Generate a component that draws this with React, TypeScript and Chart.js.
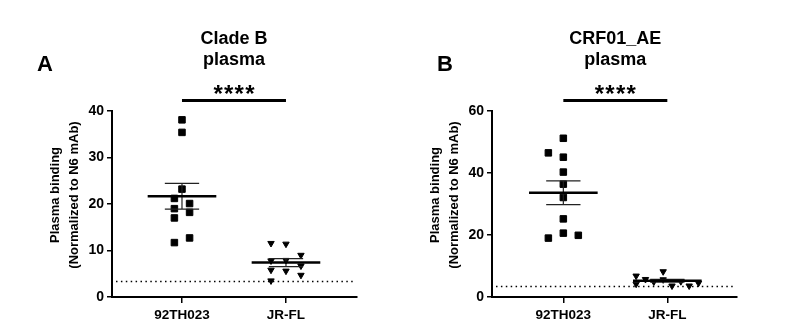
import React, { useEffect, useRef } from "react";
import { Chart, registerables } from "chart.js";

Chart.register(...registerables);

// ---------- data ----------
const categories = ["92TH023", "JR-FL"];

// Panel A: Clade B plasma
const cladeB_92TH023 = [38.1, 35.4, 23.2, 21.2, 20.1, 19.0, 18.2, 17.0, 12.7, 11.7];
const cladeB_92TH023_jitter = [0, 0, 0, -0.073, 0.073, -0.073, 0.073, -0.073, 0.073, -0.073];
const cladeB_JRFL = [11.55, 11.4, 9.0, 7.8, 7.9, 6.7, 5.8, 5.6, 4.7, 3.5];
const cladeB_JRFL_jitter = [-0.144, 0, 0.144, -0.144, 0, 0.144, -0.144, 0, 0.144, -0.144];
const cladeB_yTicks = [0, 10, 20, 30, 40];

// Panel B: CRF01_AE plasma
const crf01_92TH023 = [51.2, 46.5, 45.1, 40.3, 36.4, 32.1, 25.2, 20.6, 19.0, 19.9];
const crf01_92TH023_jitter = [0, -0.144, 0, 0, 0, 0, 0, 0, -0.144, 0.144];
const crf01_JRFL = [6.8, 8.2, 5.7, 4.2, 4.9, 5.6, 3.6, 5.0, 3.6, 4.5];
const crf01_JRFL_jitter = [-0.3, -0.04, -0.21, -0.3, -0.13, -0.04, 0.045, 0.13, 0.21, 0.3];
const crf01_yTicks = [0, 20, 40, 60];

const cutoff = 3.35;
const significance = "****";

const FONT = "'Liberation Sans', Arial, Helvetica, sans-serif";

type Panel = {
  letter: string;
  letterX: number;
  title: string[];
  groupA: number[];
  jitterA: number[];
  groupB: number[];
  jitterB: number[];
  yTicks: number[];
  xMin: number;
  xMax: number;
  padLeft: number;
  padRight: number;
  left: number;
};

const panels: Panel[] = [
  {
    letter: "A",
    letterX: 37,
    title: ["Clade B", "plasma"],
    groupA: cladeB_92TH023,
    jitterA: cladeB_92TH023_jitter,
    groupB: cladeB_JRFL,
    jitterB: cladeB_JRFL_jitter,
    yTicks: cladeB_yTicks,
    xMin: -0.673,
    xMax: 1.683,
    padLeft: 72,
    padRight: 40,
    left: 0,
  },
  {
    letter: "B",
    letterX: 40,
    title: ["CRF01_AE", "plasma"],
    groupA: crf01_92TH023,
    jitterA: crf01_92TH023_jitter,
    groupB: crf01_JRFL,
    jitterB: crf01_JRFL_jitter,
    yTicks: crf01_yTicks,
    xMin: -0.686,
    xMax: 1.67,
    padLeft: 55,
    padRight: 57,
    left: 397,
  },
];

function meanSem(v: number[]) {
  const n = v.length;
  const m = v.reduce((a, b) => a + b, 0) / n;
  const sd = Math.sqrt(v.reduce((a, b) => a + (b - m) * (b - m), 0) / (n - 1));
  return { m, sem: sd / Math.sqrt(n) };
}

function makeOverlay(p: Panel) {
  return {
    id: "overlay" + p.letter,
    beforeDatasetsDraw(chart: any) {
      const { ctx, chartArea, scales } = chart;
      const y = scales.y;
      ctx.save();
      ctx.strokeStyle = "#000";
      ctx.lineWidth = 1.5;
      ctx.setLineDash([1.5, 3.4]);
      const yy = y.getPixelForValue(cutoff);
      ctx.beginPath();
      ctx.moveTo(chartArea.left + 4, yy);
      ctx.lineTo(chartArea.right - 3, yy);
      ctx.stroke();
      ctx.restore();
    },
    afterDatasetsDraw(chart: any) {
      const { ctx, chartArea, scales } = chart;
      const x = scales.x;
      const y = scales.y;
      ctx.save();
      // mean +/- SEM
      [p.groupA, p.groupB].forEach((vals, i) => {
        const { m, sem } = meanSem(vals);
        const cx = x.getPixelForValue(i);
        const ym = y.getPixelForValue(m);
        const yt = y.getPixelForValue(m + sem);
        const yb = y.getPixelForValue(m - sem);
        ctx.strokeStyle = "#222";
        ctx.lineWidth = 1.2;
        ctx.beginPath();
        ctx.moveTo(cx, yt);
        ctx.lineTo(cx, yb);
        ctx.moveTo(x.getPixelForValue(i - 0.165), yt);
        ctx.lineTo(x.getPixelForValue(i + 0.165), yt);
        ctx.moveTo(x.getPixelForValue(i - 0.165), yb);
        ctx.lineTo(x.getPixelForValue(i + 0.165), yb);
        ctx.stroke();
        ctx.strokeStyle = "#000";
        ctx.lineWidth = 2.5;
        ctx.beginPath();
        ctx.moveTo(x.getPixelForValue(i - 0.33), ym);
        ctx.lineTo(x.getPixelForValue(i + 0.33), ym);
        ctx.stroke();
      });

      const x0 = x.getPixelForValue(0);
      const x1 = x.getPixelForValue(1);
      const xc = (x0 + x1) / 2;

      // significance bar
      ctx.strokeStyle = "#000";
      ctx.lineWidth = 3;
      ctx.beginPath();
      ctx.moveTo(x0, chartArea.top - 10.5);
      ctx.lineTo(x1, chartArea.top - 10.5);
      ctx.stroke();

      // asterisks
      ctx.fillStyle = "#000";
      ctx.font = `bold 24px ${FONT}`;
      ctx.textAlign = "center";
      ctx.textBaseline = "alphabetic";
      const mt = ctx.measureText("*");
      const inkCenter = (-mt.actualBoundingBoxAscent + mt.actualBoundingBoxDescent) / 2;
      const base = 89.5 - inkCenter;
      const n = significance.length;
      for (let k = 0; k < n; k++) {
        ctx.fillText("*", xc + (k - (n - 1) / 2) * 10.6, base);
      }

      // title
      ctx.font = `bold 18px ${FONT}`;
      ctx.fillText(p.title[0], xc, 44);
      ctx.fillText(p.title[1], xc, 64.5);

      // panel letter
      ctx.textAlign = "left";
      ctx.font = `bold 22px ${FONT}`;
      ctx.fillText(p.letter, p.letterX, 70.5);

      // y-axis title
      ctx.font = `bold 13px ${FONT}`;
      ctx.textAlign = "center";
      ctx.textBaseline = "middle";
      ctx.translate(chartArea.left - 57, 195);
      ctx.rotate(-Math.PI / 2);
      ctx.fillText("Plasma binding", 0, 0);
      ctx.fillText("(Normalized to N6 mAb)", 0, 19);
      ctx.restore();
    },
  };
}

function PanelChart({ p }: { p: Panel }) {
  const ref = useRef<HTMLCanvasElement | null>(null);
  useEffect(() => {
    if (!ref.current) return;
    const tickFont = { family: FONT, size: 14, weight: "bold" as const };
    const xFont = { family: FONT, size: 13.5, weight: "bold" as const };
    const chart = new Chart(ref.current, {
      type: "scatter",
      data: {
        datasets: [
          {
            data: p.groupA.map((v, i) => ({ x: 0 + p.jitterA[i], y: v })),
            pointStyle: "rect",
            pointRadius: 4.6,
            backgroundColor: "#000",
            borderColor: "#000",
            borderWidth: 1,
          },
          {
            data: p.groupB.map((v, i) => ({ x: 1 + p.jitterB[i], y: v })),
            pointStyle: "triangle",
            rotation: 180,
            pointRadius: 3.7,
            backgroundColor: "#000",
            borderColor: "#000",
            borderWidth: 1,
          },
        ],
      },
      options: {
        animation: false,
        responsive: false,
        maintainAspectRatio: false,
        events: [],
        layout: { padding: { left: p.padLeft, right: p.padRight, top: 111, bottom: 0 } },
        plugins: { legend: { display: false }, tooltip: { enabled: false } },
        scales: {
          x: {
            type: "linear",
            min: p.xMin,
            max: p.xMax,
            afterBuildTicks: (s: any) => {
              s.ticks = categories.map((_, i) => ({ value: i }));
            },
            afterFit: (s: any) => {
              s.height = 24;
            },
            ticks: {
              callback: (v: any) => categories[v as number] ?? "",
              font: xFont,
              color: "#000",
              padding: 4,
              maxRotation: 0,
              autoSkip: false,
            },
            grid: { drawOnChartArea: false, drawTicks: true, tickLength: 6, color: "#000", lineWidth: 1.5 },
            border: { color: "#000", width: 2 },
          },
          y: {
            min: p.yTicks[0],
            max: p.yTicks[p.yTicks.length - 1],
            afterBuildTicks: (s: any) => {
              s.ticks = p.yTicks.map((v) => ({ value: v }));
            },
            afterFit: (s: any) => {
              s.width = 40;
            },
            ticks: { font: tickFont, color: "#000", padding: 3 },
            grid: { drawOnChartArea: false, drawTicks: true, tickLength: 5, color: "#000", lineWidth: 1.5 },
            border: { color: "#000", width: 2 },
          },
        },
      },
      plugins: [makeOverlay(p)],
    } as any);
    return () => chart.destroy();
  }, [p]);
  return (
    <canvas
      ref={ref}
      width={397}
      height={321}
      style={{ position: "absolute", left: p.left, top: 0, width: 397, height: 321 }}
    />
  );
}

export default function App() {
  return (
    <div style={{ position: "absolute", left: 0, top: 0, width: 794, height: 321, background: "#fff" }}>
      {panels.map((p) => (
        <PanelChart key={p.letter} p={p} />
      ))}
    </div>
  );
}
